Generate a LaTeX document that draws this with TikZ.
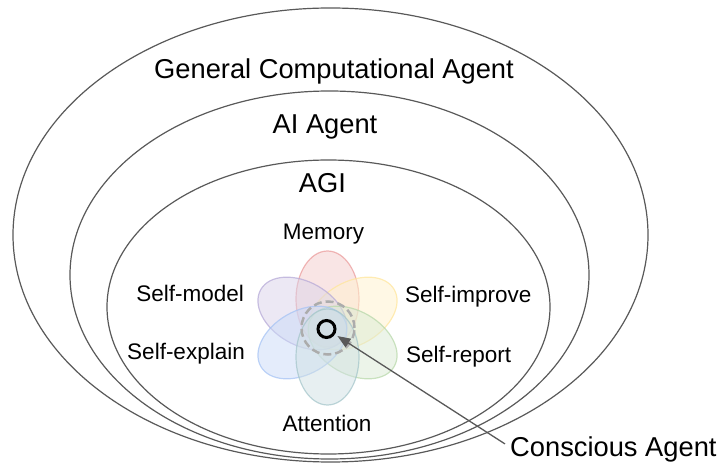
\documentclass[tikz,border=0pt]{standalone}
\usepackage{fontspec}
\setmainfont{Liberation Sans}
\usetikzlibrary{shapes.geometric, arrows.meta}

\definecolor{ringgray}{HTML}{595959}
\definecolor{redfill}{HTML}{F4CCCC}
\definecolor{redline}{HTML}{EA9999}
\definecolor{yellowfill}{HTML}{FFF2CC}
\definecolor{yellowline}{HTML}{FFE599}
\definecolor{greenfill}{HTML}{D9EAD3}
\definecolor{greenline}{HTML}{B6D7A8}
\definecolor{tealfill}{HTML}{D0E0E3}
\definecolor{tealline}{HTML}{A2C4C9}
\definecolor{bluefill}{HTML}{C9DAF8}
\definecolor{blueline}{HTML}{A4C2F4}
\definecolor{purplefill}{HTML}{D9D2E9}
\definecolor{purpleline}{HTML}{B4A7D6}

\begin{document}
\begin{tikzpicture}[x=1pt, y=1pt]

    % Define styles
    \tikzset{
        ring/.style = {ellipse, draw=ringgray, line width=1.2pt, inner sep=0pt},
        petal/.style = {ellipse, minimum width=96pt, minimum height=63pt, inner sep=0pt, line width=1.2pt, fill opacity=0.5, draw opacity=0.7},
        biglabel/.style = {inner sep=0pt, font=\fontsize{27.3}{32}\selectfont},
        smalllabel/.style = {inner sep=0pt, font=\fontsize{22.5}{27}\selectfont},
        arrow/.style = {draw=ringgray, line width=1.3pt, ->, >={Triangle[length=13pt, width=10pt]}}
    }

    \useasboundingbox (0,0) rectangle (717,463);

    % Rings
    \node (gca) [ring, minimum width=635pt, minimum height=454pt] at (330.5,228) {};
    \node (ai) [ring, minimum width=519pt, minimum height=368pt] at (329.5,188) {};
    \node (agi) [ring, minimum width=443pt, minimum height=294pt] at (328.5,156) {};

    % Petals
    \coordinate (flower) at (327.5,135);
    \node (memory) [petal, draw=redline, fill=redfill, rotate=90] at ([shift={(90:29)}]flower) {};
    \node (improve) [petal, draw=yellowline, fill=yellowfill, rotate=30] at ([shift={(30:29)}]flower) {};
    \node (model) [petal, draw=purpleline, fill=purplefill, rotate=150] at ([shift={(150:29)}]flower) {};
    \node (report) [petal, draw=greenline, fill=greenfill, rotate=-30] at ([shift={(-30:29)}]flower) {};
    \node (explain) [petal, draw=blueline, fill=bluefill, rotate=210] at ([shift={(210:29)}]flower) {};
    \node (attention) [petal, draw=tealline, fill=tealfill, rotate=-90] at ([shift={(-90:29)}]flower) {};

    % Core
    \node (overlap) [circle, draw=gray!65, dash pattern=on 8pt off 4pt, line width=2.5pt, minimum size=53pt, inner sep=0pt] at (328,135) {};
    \node (core) [circle, draw=black, line width=3pt, minimum size=17pt, inner sep=0pt] at (326.5,134) {};

    % Labels
    \node (gcalabel) [biglabel, anchor=base] at (334,384) {General Computational Agent};
    \node (ailabel) [biglabel, anchor=base] at (325,329) {AI Agent};
    \node (agilabel) [biglabel, anchor=base] at (322.5,270) {AGI};
    \node (memorylabel) [smalllabel, anchor=base] at (323.5,223) {Memory};
    \node (modellabel) [smalllabel, anchor=base east] at (244,161) {Self-model};
    \node (explainlabel) [smalllabel, anchor=base east] at (245,103) {Self-explain};
    \node (attentionlabel) [smalllabel, anchor=base] at (327,31) {Attention};
    \node (improvelabel) [smalllabel, anchor=base west] at (405,160) {Self-improve};
    \node (reportlabel) [smalllabel, anchor=base west] at (406,100) {Self-report};
    \node (conscious) [biglabel, anchor=base west] at (510,7) {Conscious Agent};

    % Arrows
    \draw [arrow, shorten >=3pt] ([shift={(-5pt,5pt)}]conscious.west) -- (core);
\end{tikzpicture}
\end{document}
